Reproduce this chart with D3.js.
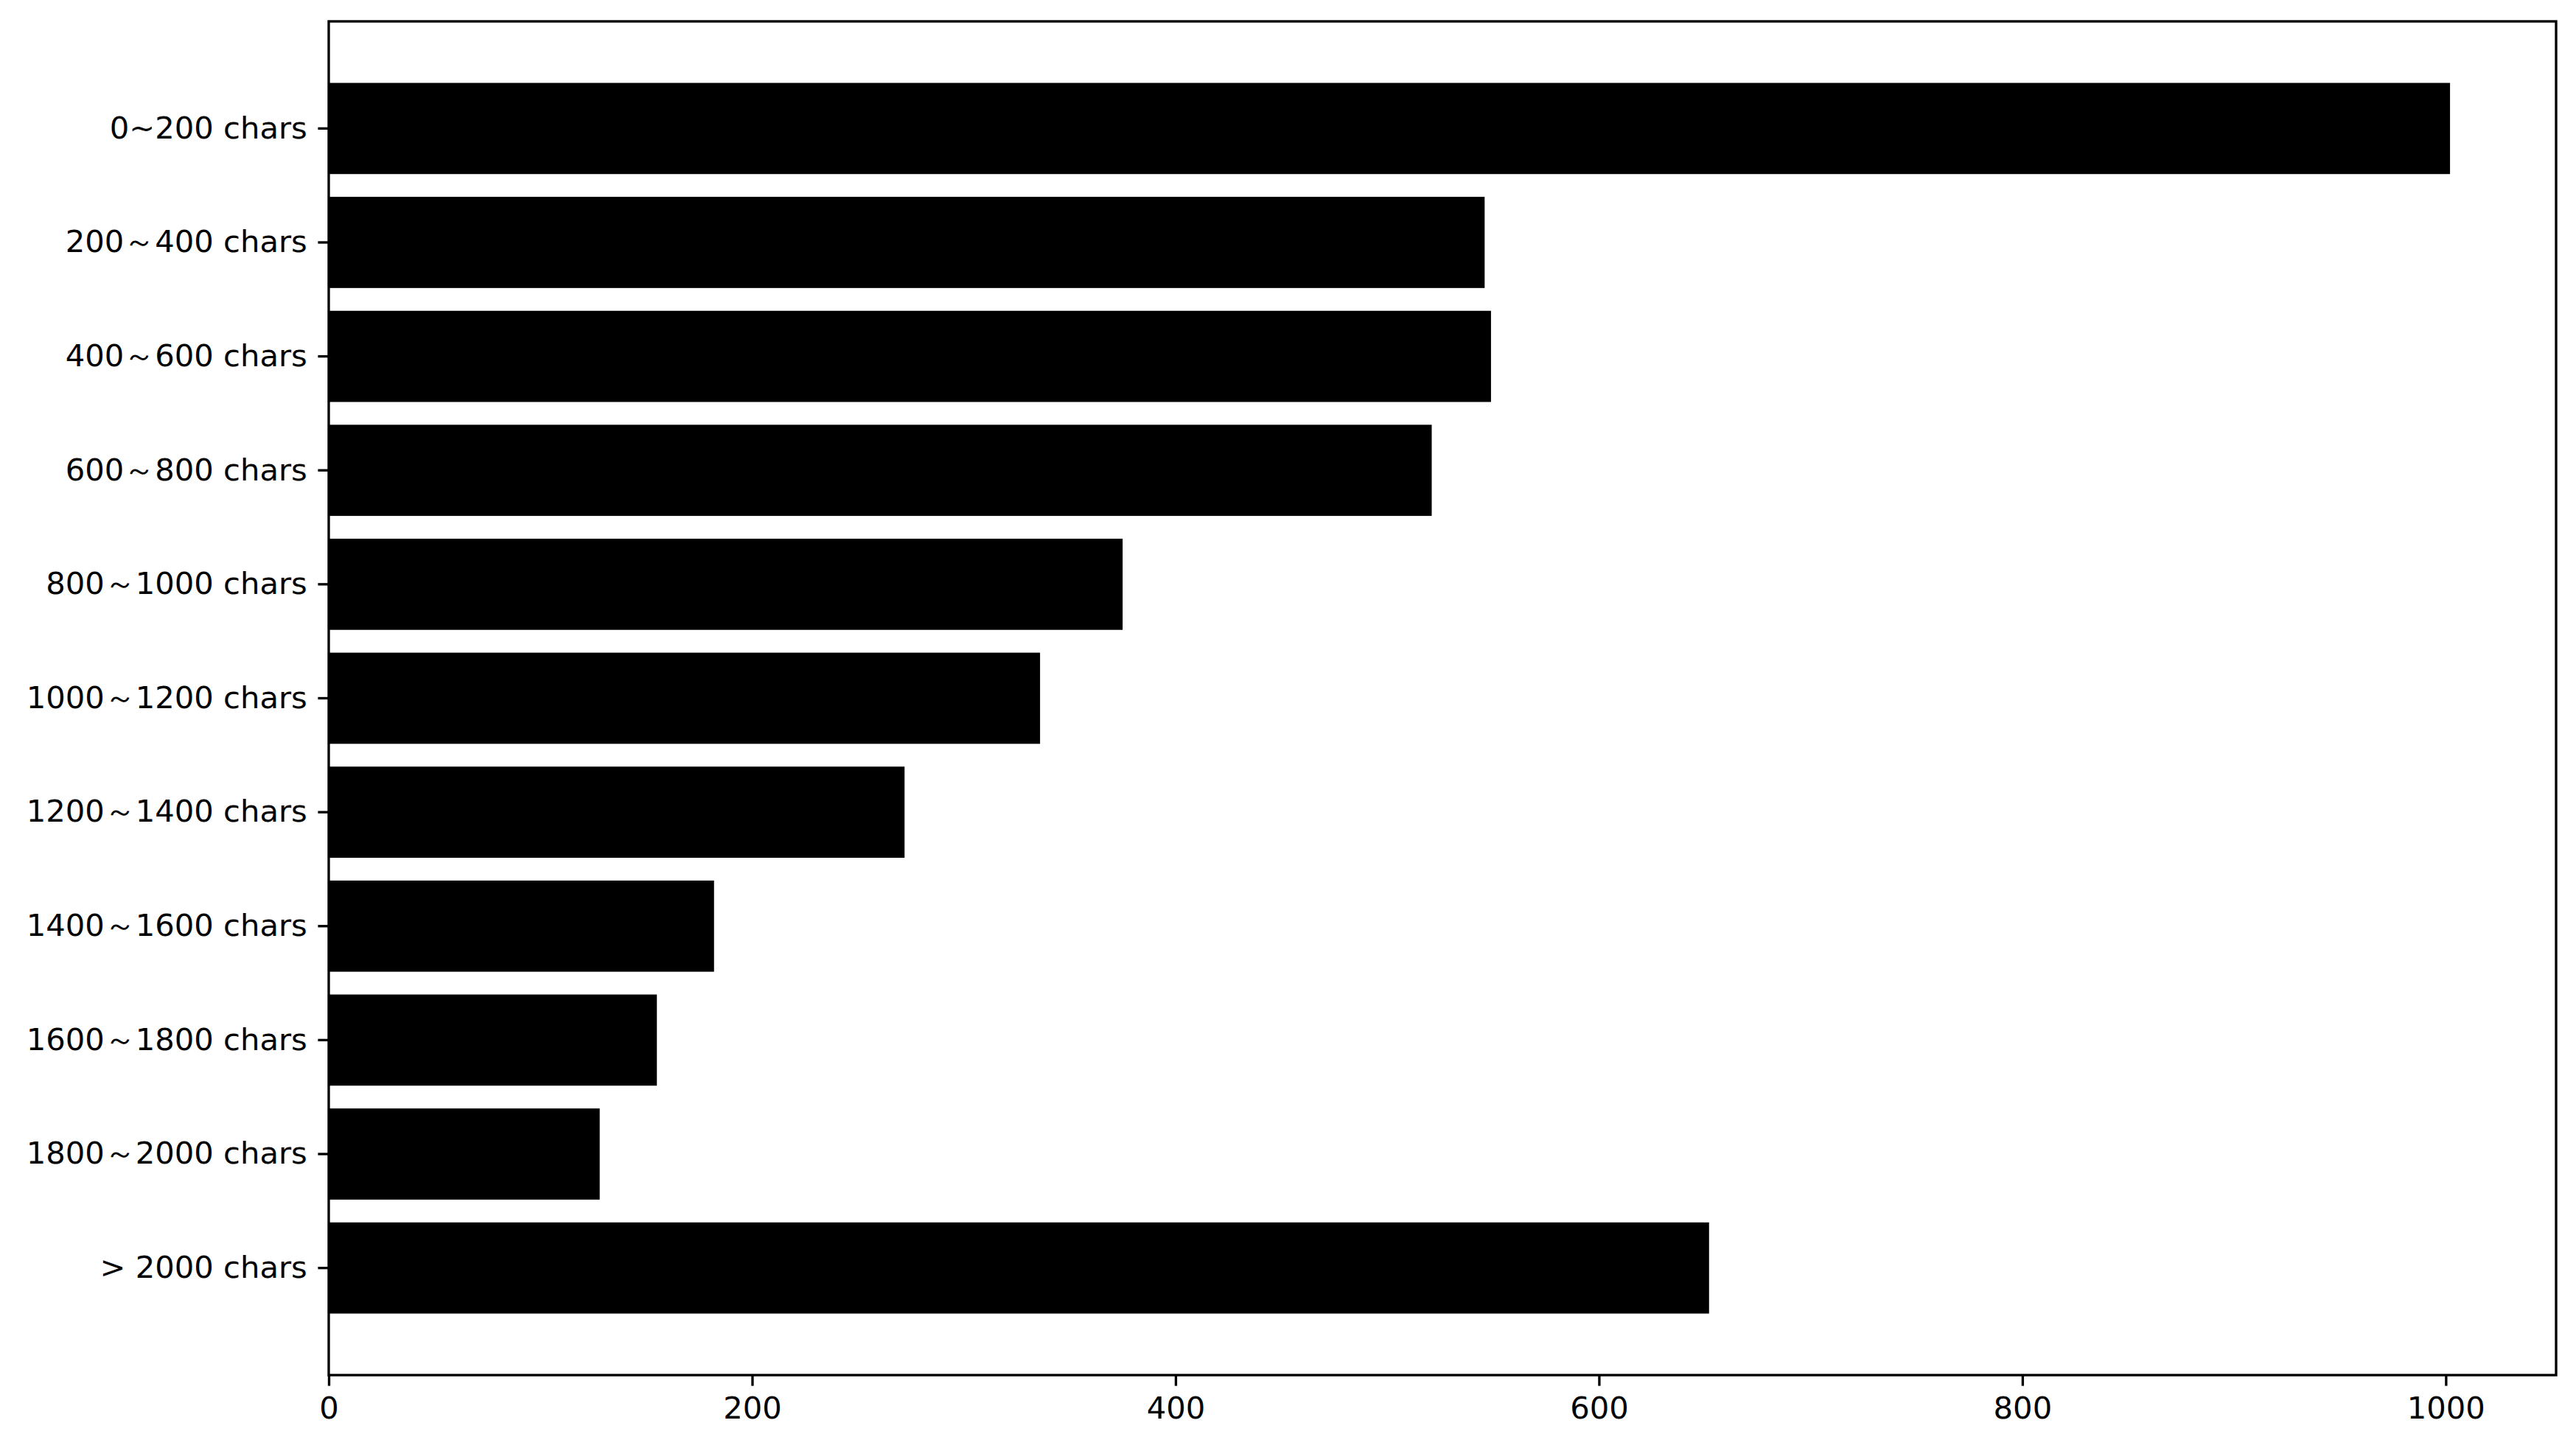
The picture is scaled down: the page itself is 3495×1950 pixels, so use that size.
<!DOCTYPE html>
<html>
<head>
<meta charset="utf-8">
<script src="https://cdn.jsdelivr.net/npm/d3@7"></script>
<style>
  html, body { margin: 0; padding: 0; background: #ffffff; }
  svg { display: block; }
  .tick text { font-family: "DejaVu Sans", sans-serif; fill: #000; }
</style>
</head>
<body>
<svg id="chart" width="3495" height="1950"></svg>
<script>
const categories = [
  "0~200 chars", "200～400 chars", "400～600 chars", "600～800 chars",
  "800～1000 chars", "1000～1200 chars", "1200～1400 chars", "1400～1600 chars",
  "1600～1800 chars", "1800～2000 chars", "> 2000 chars"
];
const counts = [1002, 546, 549, 521, 375, 336, 272, 182, 155, 128, 652];
const xTicks = [0, 200, 400, 600, 800, 1000];

const W = 3495, H = 1950;
const margin = { left: 446, right: 27, top: 29, bottom: 84 };
const x0 = margin.left, x1 = W - margin.right;
const y0 = margin.top, y1 = H - margin.bottom;
const fontSize = 41.7;
const lw = 3.33;
const tickLen = 14.6, tickPad = 14.6;

const svg = d3.select("#chart");
svg.append("rect").attr("width", W).attr("height", H).attr("fill", "#fff");

const x = d3.scaleLinear().domain([0, d3.max(counts) * 1.05]).range([x0, x1]);
const y = d3.scaleBand().domain(categories).range([y0, y1])
  .paddingInner(0.2).paddingOuter(0.54);

svg.append("g").selectAll("rect").data(categories).join("rect")
  .attr("x", x(0))
  .attr("y", d => y(d))
  .attr("width", (d, i) => x(counts[i]) - x(0))
  .attr("height", y.bandwidth())
  .attr("fill", "#000");

const xAxis = svg.append("g").attr("transform", `translate(0,${y1})`)
  .call(d3.axisBottom(x).tickValues(xTicks).tickFormat(d3.format("d"))
    .tickSize(tickLen).tickPadding(tickPad));
const yAxis = svg.append("g").attr("transform", `translate(${x0},0)`)
  .call(d3.axisLeft(y).tickSize(tickLen).tickPadding(tickPad));

[xAxis, yAxis].forEach(g => {
  g.select(".domain").remove();
  g.selectAll(".tick line").attr("stroke", "#000").attr("stroke-width", lw);
  g.selectAll(".tick text").attr("font-size", fontSize);
});

svg.append("rect")
  .attr("x", x0).attr("y", y0)
  .attr("width", x1 - x0).attr("height", y1 - y0)
  .attr("fill", "none").attr("stroke", "#000").attr("stroke-width", lw);
</script>
</body>
</html>
